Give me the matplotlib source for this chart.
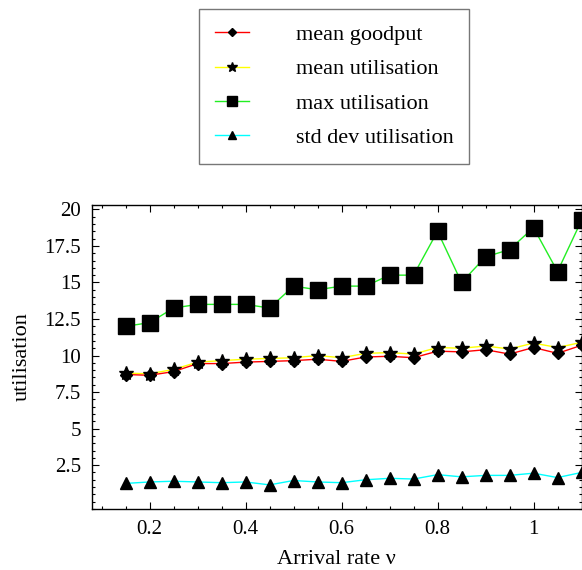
import matplotlib
matplotlib.use("Agg")
import matplotlib.pyplot as plt
from matplotlib.ticker import MultipleLocator, FuncFormatter

plt.rcParams['font.family'] = ['Liberation Serif', 'DejaVu Serif']

arrival_rate = [0.15, 0.2, 0.25, 0.3, 0.35, 0.4, 0.45, 0.5, 0.55, 0.6,
                0.65, 0.7, 0.75, 0.8, 0.85, 0.9, 0.95, 1.0, 1.05, 1.1]
mean_goodput = [8.7, 8.65, 8.9, 9.45, 9.45, 9.55, 9.6, 9.65, 9.75, 9.6,
                9.9, 9.95, 9.85, 10.3, 10.25, 10.4, 10.1, 10.55, 10.15, 10.7]
mean_util = [8.8, 8.75, 9.05, 9.55, 9.65, 9.75, 9.8, 9.85, 10.0, 9.85,
             10.15, 10.2, 10.1, 10.55, 10.5, 10.65, 10.45, 10.85, 10.55, 10.9]
max_util = [12.0, 12.25, 13.25, 13.5, 13.5, 13.5, 13.25, 14.75, 14.5, 14.75,
            14.75, 15.5, 15.5, 18.5, 15.0, 16.75, 17.25, 18.75, 15.75, 19.25]
std_util = [1.25, 1.35, 1.4, 1.35, 1.3, 1.35, 1.15, 1.45, 1.35, 1.3,
            1.5, 1.6, 1.55, 1.85, 1.7, 1.8, 1.8, 1.95, 1.65, 2.0]
y_ticks = [2.5, 5, 7.5, 10, 12.5, 15, 17.5, 20]
x_ticks = [0.2, 0.4, 0.6, 0.8, 1.0]

fig = plt.figure(figsize=(5.82, 5.70), dpi=100)
ax = fig.add_axes([92/582, 1 - 509/570, 1 - 92/582 - 0.5/582, (509 - 205)/570])

l1, = ax.plot(arrival_rate, mean_goodput, color='red', lw=1.0, marker='D',
              ms=6, mfc='black', mec='black', clip_on=False, zorder=3)
l2, = ax.plot(arrival_rate, mean_util, color='yellow', lw=1.0, marker='*',
              ms=10, mfc='black', mec='black', clip_on=False, zorder=2)
l3, = ax.plot(arrival_rate, max_util, color='#22ee22', lw=1.0, marker='s',
              ms=11, mfc='black', mec='black', clip_on=False, zorder=2)
l4, = ax.plot(arrival_rate, std_util, color='cyan', lw=1.0, marker='^',
              ms=8, mfc='black', mec='black', clip_on=False, zorder=2)

ax.set_xlim(0.08, 1.1)
ax.set_ylim(-0.5, 20.3)
ax.set_xticks(x_ticks)
ax.set_yticks(y_ticks)
ax.xaxis.set_minor_locator(MultipleLocator(0.05))
ax.yaxis.set_minor_locator(MultipleLocator(0.5))
ax.xaxis.set_major_formatter(FuncFormatter(lambda v, p: '%g' % round(v, 3)))
ax.yaxis.set_major_formatter(FuncFormatter(lambda v, p: '%g' % v))
ax.tick_params(which='both', direction='in', top=True, right=True,
               labelsize=15, width=0.8)
ax.tick_params(which='major', length=5, pad=8)
ax.tick_params(which='minor', length=2.5)
for s in ax.spines.values():
    s.set_linewidth(1.0)

ax.set_xlabel('Arrival rate ν', fontsize=16, labelpad=8)
ax.set_ylabel('utilisation', fontsize=16, labelpad=9)

leg = fig.legend([l1, l2, l3, l4],
                 ['mean goodput', 'mean utilisation', 'max utilisation',
                  'std dev utilisation'],
                 loc='upper left', bbox_to_anchor=(199/582, 1 - 9/570),
                 fontsize=16, frameon=True, fancybox=False, handlelength=1.55,
                 handletextpad=2.1, borderpad=0.7, labelspacing=0.62,
                 borderaxespad=0, markerscale=0.7)
leg.get_frame().set_edgecolor('#555555')
leg.get_frame().set_linewidth(1.0)

fig.savefig('out.png', dpi=100)
